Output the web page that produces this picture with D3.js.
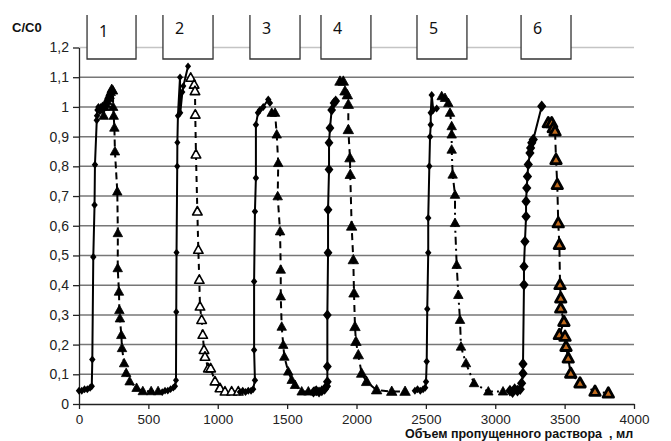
<!DOCTYPE html>
<html>
<head>
<meta charset="utf-8">
<script src="https://cdn.jsdelivr.net/npm/d3@7"></script>
<style>
  body { margin: 0; background: #fff; }
  svg { display: block; }
</style>
</head>
<body>
<script>
// breakthrough (diamonds, solid) and washout (triangles, dashed) for 6 cycles
const rise1 = [[0,.045],[20,.045],[40,.05],[60,.05],[80,.055],[92,.06],[96,.15],[103,.495],[112,.67],[115,.805],[128,.955],[130,.97],[133,.99],[140,1.0],[150,.985],[158,1.0],[165,.99]];
const fall1 = [[170,1.0],[178,.97],[185,1.0],[195,1.01],[203,1.02],[212,1.03],[220,1.04],[228,1.05],[236,1.06],[245,1.055],[246,1.0],[250,.97],[255,.93],[259,.85],[276,.715],[280,.575],[279,.457],[288,.378],[291,.316],[295,.288],[305,.232],[310,.188],[325,.137],[340,.104],[365,.076],[415,.054],[460,.043],[520,.043],[570,.043]];
const rise2 = [[600,.04],[620,.045],[640,.045],[660,.05],[680,.055],[692,.06],[699,.08],[701,.31],[703,.51],[708,.80],[709,.88],[713,.97],[728,1.10],[730,.98],[745,1.05],[752,1.07],[786,1.137]];
const fall2 = [[805,1.098],[830,1.075],[836,1.053],[838,.974],[843,.84],[853,.648],[860,.519],[867,.418],[872,.328],[884,.283],[892,.233],[901,.182],[908,.159],[932,.12],[949,.12],[980,.076],[1016,.053],[1052,.042],[1100,.042],[1148,.042]];
const rise3 = [[1160,.04],[1180,.045],[1200,.04],[1220,.045],[1240,.045],[1255,.05],[1268,.08],[1262,.182],[1262,.412],[1268,.648],[1275,.761],[1275,.94],[1290,.98],[1304,.99],[1328,1.0],[1364,1.025],[1376,1.013]];
const fall3 = [[1389,.98],[1413,.98],[1425,.907],[1436,.811],[1432,.699],[1449,.581],[1454,.452],[1454,.362],[1461,.26],[1472,.199],[1480,.159],[1508,.109],[1533,.081],[1557,.064],[1605,.042],[1653,.042],[1701,.042]];
const rise4 = [[1690,.04],[1710,.045],[1730,.04],[1750,.045],[1770,.05],[1785,.06],[1790,.075],[1790,.126],[1790,.30],[1795,.509],[1795,.654],[1802,.789],[1802,.879],[1809,.929],[1821,.99],[1838,1.013],[1850,1.02]];
const fall4 = [[1881,1.086],[1905,1.086],[1917,1.053],[1934,1.04],[1941,1.008],[1941,.923],[1953,.828],[1955,.772],[1965,.598],[1977,.485],[1982,.373],[1989,.26],[1996,.21],[2013,.165],[2037,.103],[2073,.075],[2145,.047],[2254,.042],[2350,.042]];
const rise5 = [[2421,.045],[2440,.05],[2460,.045],[2480,.05],[2495,.055],[2501,.075],[2506,.143],[2510,.32],[2517,.509],[2517,.626],[2525,.80],[2530,.90],[2535,.94],[2535,.98],[2542,1.04],[2553,.99],[2578,.995]];
const fall5 = [[2614,1.036],[2638,1.03],[2662,1.013],[2674,.98],[2686,.935],[2686,.907],[2686,.856],[2693,.772],[2710,.704],[2710,.609],[2722,.468],[2734,.367],[2746,.283],[2753,.193],[2789,.137],[2847,.07],[2950,.042],[3056,.042]];
const rise6 = [[3106,.045],[3125,.04],[3140,.05],[3160,.045],[3180,.05],[3190,.07],[3200,.103],[3200,.135],[3207,.401],[3207,.463],[3214,.547],[3222,.631],[3222,.682],[3227,.727],[3232,.766],[3238,.806],[3250,.845],[3255,.862],[3263,.879],[3274,.89],[3335,1.002]];
const fall6 = [[3382,.946],[3407,.946],[3418,.929],[3431,.918],[3438,.822],[3447,.738],[3454,.609],[3462,.536],[3467,.401],[3472,.356],[3472,.322],[3495,.277],[3462,.233],[3503,.227],[3510,.193],[3526,.154],[3544,.103],[3611,.07],[3719,.042],[3815,.036]];

// numbered boxes at the top (data x from..to)
const boxLabels = ["1", "2", "3", "4", "5", "6"];
const boxFrom = [58, 605, 1232, 1744, 2436, 3186];
const boxTo = [411, 966, 1593, 2104, 2796, 3546];

const xTicks = [0, 500, 1000, 1500, 2000, 2500, 3000, 3500, 4000];
const yTicks = [0, 0.1, 0.2, 0.3, 0.4, 0.5, 0.6, 0.7, 0.8, 0.9, 1, 1.1, 1.2];

const W = 671, H = 441;
const svg = d3.select("body").append("svg")
    .attr("width", W)
    .attr("height", H);

svg.append("rect").attr("width", W).attr("height", H).attr("fill", "#fff");

const x = d3.scaleLinear().domain([0, 4000]).range([79, 634]);
const y = d3.scaleLinear().domain([0, 1.2]).range([404, 47.5]);

// gridlines
svg.append("g")
    .selectAll("line")
    .data(yTicks.filter(d => d > 0))
    .enter().append("line")
    .attr("x1", x(0)).attr("x2", x(4000))
    .attr("y1", d => y(d)).attr("y2", d => y(d))
    .attr("stroke", d => d > 1.15 ? "#c4c4c4" : "#777")
    .attr("stroke-width", 1.5);

const fmt = d => d === 0 ? "0" : (Math.abs(d - 1) < 1e-9 ? "1" : d.toFixed(1).replace(".", ","));

const yAxis = svg.append("g")
    .attr("transform", `translate(${x(0)},0)`)
    .call(d3.axisLeft(y).tickValues(yTicks).tickSize(6).tickSizeOuter(0).tickFormat(fmt));
yAxis.selectAll("text")
    .attr("font-family", "Liberation Sans, Arial, sans-serif")
    .attr("font-size", 14)
    .attr("fill", "#222")
    .attr("x", -10);

const xAxis = svg.append("g")
    .attr("transform", `translate(0,${y(0)})`)
    .call(d3.axisBottom(x).tickValues(xTicks).tickSize(5).tickSizeOuter(0).tickFormat(d3.format("d")));
xAxis.selectAll("text")
    .attr("font-family", "Liberation Sans, Arial, sans-serif")
    .attr("font-size", 13.5)
    .attr("fill", "#222")
    .attr("y", 10);
svg.selectAll(".domain, .tick line").attr("stroke", "#222").attr("stroke-width", 1.3);

// boxes
const boxes = svg.append("g");
boxLabels.forEach((lab, i) => {
    const x0 = x(boxFrom[i]), x1 = x(boxTo[i]);
    boxes.append("rect")
        .attr("x", x0).attr("y", 15)
        .attr("width", x1 - x0).attr("height", 44)
        .attr("fill", "#fff");
    boxes.append("path")
        .attr("d", `M${x0},15V59H${x1}V15`)
        .attr("fill", "none")
        .attr("stroke", "#333")
        .attr("stroke-width", 1.3);
    boxes.append("text")
        .attr("x", x0 + 12)
        .attr("y", i === 0 ? 36.5 : 34)
        .attr("font-family", "Noto Sans, sans-serif")
        .attr("font-size", 16)
        .attr("fill", "#111")
        .text(lab);
});

const line = d3.line().x(d => x(d[0])).y(d => y(d[1]));

const diamond = s => `M0,${-s}L${s * 0.8},0L0,${s}L${-s * 0.8},0Z`;
const triangle = s => `M0,${-s}L${s * 0.95},${s * 0.7}L${-s * 0.95},${s * 0.7}Z`;

const series = [
    { rise: rise1, fall: fall1, dSize: 4, tSize: 5, dash: "7,4", tFill: "#000", tStroke: 0.8 },
    { rise: rise2, fall: fall2, dSize: 3.8, tSize: 5, dash: "6,5", tFill: "#fff", tStroke: 1.6 },
    { rise: rise3, fall: fall3, dSize: 4, tSize: 5, dash: "7,5", tFill: "#000", tStroke: 0.8 },
    { rise: rise4, fall: fall4, dSize: 5.5, tSize: 5.5, dash: "7,5", tFill: "#000", tStroke: 0.8 },
    { rise: rise5, fall: fall5, dSize: 4, tSize: 5, dash: "8,4,2,4", tFill: "#000", tStroke: 0.8 },
    { rise: rise6, fall: fall6, dSize: 5.8, tSize: 5.5, dash: "8,5", tFill: "#c06a1c", tStroke: 2.8 }
];

const plot = svg.append("g");
series.forEach(s => {
    plot.append("path")
        .datum(s.rise)
        .attr("fill", "none")
        .attr("stroke", "#000")
        .attr("stroke-width", 2)
        .attr("d", line);
    plot.append("path")
        .datum(s.fall)
        .attr("fill", "none")
        .attr("stroke", "#000")
        .attr("stroke-width", 2)
        .attr("stroke-dasharray", s.dash)
        .attr("d", line);
    plot.append("g")
        .selectAll("path")
        .data(s.rise)
        .enter().append("path")
        .attr("transform", d => `translate(${x(d[0])},${y(d[1])})`)
        .attr("d", diamond(s.dSize))
        .attr("fill", "#000");
    plot.append("g")
        .selectAll("path")
        .data(s.fall)
        .enter().append("path")
        .attr("transform", d => `translate(${x(d[0])},${y(d[1])})`)
        .attr("d", triangle(s.tSize))
        .attr("fill", s.tFill)
        .attr("stroke", "#000")
        .attr("stroke-linejoin", "round")
        .attr("stroke-width", s.tStroke);
});

// labels
svg.append("text")
    .attr("x", 12).attr("y", 31.5)
    .attr("font-family", "Liberation Sans, Arial, sans-serif")
    .attr("font-size", 13)
    .attr("font-weight", "bold")
    .attr("fill", "#111")
    .text("C/C0");

svg.append("text")
    .attr("x", 405).attr("y", 438.2)
    .attr("font-family", "Liberation Sans, Arial, sans-serif")
    .attr("font-size", 12.5)
    .attr("font-weight", "bold")
    .attr("fill", "#111")
    .style("white-space", "pre")
    .text("Объем пропущенного раствора  , мл");
</script>
</body>
</html>
